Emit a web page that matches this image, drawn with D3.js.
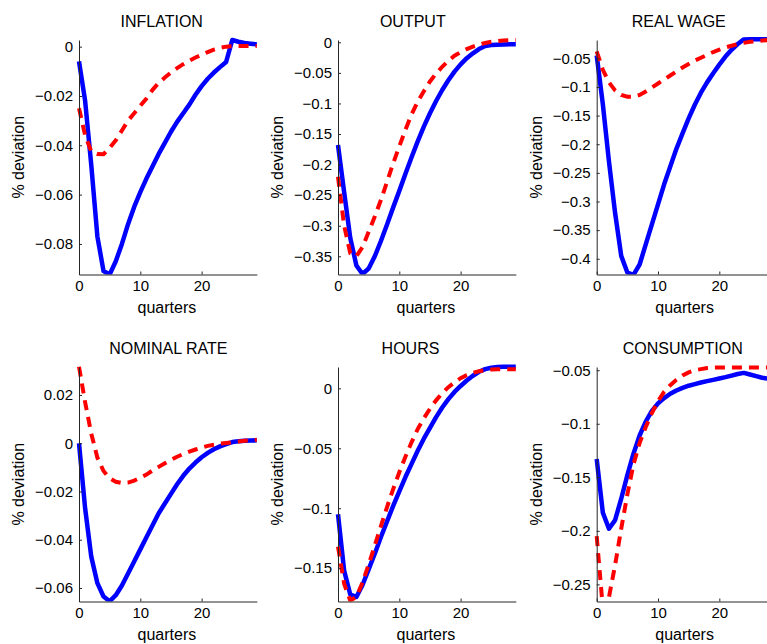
<!DOCTYPE html>
<meta charset="utf-8">
<style>

body {
  margin: 0;
}

svg {
  font-family: "Liberation Sans", Arial, sans-serif;
}

.solid {
  fill: none;
  stroke: #0000ff;
  stroke-width: 4.5;
  stroke-linejoin: round;
}

.dashed {
  fill: none;
  stroke: #ff0000;
  stroke-width: 4;
  stroke-dasharray: 10 7;
}

</style>

<svg width="767" height="644"></svg>

<script src="https://d3js.org/d3.v7.min.js"></script>
<script>

// horizonte em trimestres
var quarters = [0, 1, 2, 3, 4, 5, 6, 7, 8, 9, 10, 11, 12, 13, 14, 15, 16, 17, 18, 19, 20, 21, 22, 23, 24, 25, 26, 27, 28, 29];

var titles = ["INFLATION", "OUTPUT", "REAL WAGE", "NOMINAL RATE", "HOURS", "CONSUMPTION"];

var xTicks = [0, 10, 20];

// respostas (linha azul cheia)
var inflationSolid = [-0.006, -0.022, -0.048, -0.077, -0.091, -0.0924, -0.087, -0.080, -0.072, -0.065, -0.059, -0.0535, -0.0485, -0.0435, -0.039, -0.0345, -0.0305, -0.027, -0.0235, -0.0195, -0.016, -0.013, -0.0105, -0.0083, -0.0062, 0.0027, 0.002, 0.0015, 0.0012, 0.0009];
var outputSolid = [-0.168, -0.245, -0.32, -0.365, -0.379, -0.37, -0.35, -0.325, -0.298, -0.27, -0.243, -0.215, -0.188, -0.162, -0.138, -0.116, -0.096, -0.078, -0.062, -0.048, -0.036, -0.026, -0.018, -0.011, -0.006, -0.0045, -0.004, -0.0035, -0.003, -0.003];
var wageSolid = [-0.045, -0.13, -0.23, -0.32, -0.395, -0.424, -0.428, -0.41, -0.375, -0.34, -0.305, -0.27, -0.239, -0.208, -0.181, -0.155, -0.131, -0.110, -0.092, -0.076, -0.061, -0.047, -0.035, -0.025, -0.017, -0.0168, -0.0168, -0.0168, -0.0168, -0.0168];
var rateSolid = [0, -0.027, -0.047, -0.058, -0.0635, -0.0655, -0.063, -0.059, -0.054, -0.049, -0.044, -0.039, -0.034, -0.029, -0.025, -0.021, -0.017, -0.0135, -0.0105, -0.008, -0.0058, -0.004, -0.0025, -0.0013, -0.0004, 0.0005, 0.0008, 0.001, 0.0011, 0.0012];
var hoursSolid = [-0.105, -0.152, -0.172, -0.174, -0.164, -0.151, -0.138, -0.124, -0.111, -0.098, -0.086, -0.074, -0.063, -0.052, -0.042, -0.033, -0.024, -0.016, -0.009, -0.003, 0.002, 0.0065, 0.0105, 0.0138, 0.016, 0.0172, 0.0178, 0.018, 0.018, 0.018];
var consSolid = [-0.133, -0.183, -0.198, -0.190, -0.170, -0.148, -0.128, -0.111, -0.098, -0.088, -0.081, -0.076, -0.072, -0.069, -0.0665, -0.0645, -0.063, -0.0615, -0.0602, -0.059, -0.0578, -0.0565, -0.055, -0.0535, -0.0525, -0.054, -0.0555, -0.057, -0.058, -0.0585];

// respostas (linha vermelha tracejada)
var inflationDashed = [-0.025, -0.036, -0.0425, -0.0435, -0.0436, -0.041, -0.038, -0.034, -0.030, -0.027, -0.024, -0.021, -0.0175, -0.0147, -0.0125, -0.0105, -0.0087, -0.0071, -0.0057, -0.0044, -0.0033, -0.0022, -0.0012, -0.0005, 0, 0.0002, 0.0003, 0.0003, 0.0003, 0.0003];
var outputDashed = [-0.22, -0.30, -0.345, -0.35, -0.335, -0.31, -0.285, -0.258, -0.228, -0.198, -0.170, -0.143, -0.118, -0.097, -0.080, -0.064, -0.051, -0.040, -0.030, -0.022, -0.016, -0.011, -0.007, -0.004, -0.001, 0.001, 0.002, 0.003, 0.0035, 0.0038];
var wageDashed = [-0.038, -0.07, -0.092, -0.106, -0.114, -0.117, -0.117, -0.114, -0.108, -0.101, -0.094, -0.087, -0.080, -0.073, -0.066, -0.060, -0.054, -0.049, -0.044, -0.039, -0.035, -0.031, -0.028, -0.025, -0.023, -0.021, -0.020, -0.019, -0.018, -0.0175];
var rateDashed = [0.0317, 0.017, 0.004, -0.006, -0.0115, -0.0145, -0.016, -0.0165, -0.0163, -0.0155, -0.0143, -0.013, -0.0113, -0.0098, -0.0083, -0.0069, -0.0056, -0.0045, -0.0035, -0.0026, -0.0018, -0.0011, -0.0006, -0.0002, 0.0001, 0.0004, 0.0007, 0.001, 0.0012, 0.0014];
var hoursDashed = [-0.132, -0.163, -0.177, -0.174, -0.162, -0.147, -0.131, -0.115, -0.099, -0.084, -0.070, -0.057, -0.045, -0.034, -0.025, -0.017, -0.010, -0.004, 0.001, 0.005, 0.0085, 0.011, 0.013, 0.0143, 0.0152, 0.0157, 0.016, 0.016, 0.016, 0.016];
var consDashed = [-0.205, -0.272, -0.262, -0.232, -0.198, -0.166, -0.138, -0.118, -0.103, -0.090, -0.079, -0.070, -0.064, -0.059, -0.055, -0.052, -0.050, -0.049, -0.048, -0.0476, -0.0475, -0.0475, -0.0475, -0.0475, -0.0475, -0.0475, -0.0475, -0.0475, -0.0475, -0.0475];

// limites e ticks do eixo y
var yLimits = [[-0.0924, 0.0027], [-0.3798, 0.0038], [-0.4275, -0.018], [-0.0656, 0.0316], [-0.1778, 0.0178], [-0.266, -0.047]];
var yTicks = [
  [-0.08, -0.06, -0.04, -0.02, 0],
  [-0.35, -0.3, -0.25, -0.2, -0.15, -0.1, -0.05, 0],
  [-0.4, -0.35, -0.3, -0.25, -0.2, -0.15, -0.1, -0.05],
  [-0.06, -0.04, -0.02, 0, 0.02],
  [-0.15, -0.1, -0.05, 0],
  [-0.25, -0.2, -0.15, -0.1, -0.05]
];

var solids = [inflationSolid, outputSolid, wageSolid, rateSolid, hoursSolid, consSolid];
var dashes = [inflationDashed, outputDashed, wageDashed, rateDashed, hoursDashed, consDashed];

var svg = d3.select("svg");

var colLeft = [79, 338, 596.7],
    rowTop = [40, 367],
    panelW = 177.8,
    panelH = 234.5,
    titleOffset = [82.7, 74.8, 82.1, 89.3, 72.5, 86];

var fmt = d3.format("~g");

titles.forEach(function(title, i) {
  var left = colLeft[i % 3],
      top = rowTop[Math.floor(i / 3)];

  var x = d3.scaleLinear().domain([0, 29]).range([0, panelW]);
  var y = d3.scaleLinear().domain(yLimits[i]).range([panelH, 0]);

  var g = svg.append("g").attr("transform", "translate(" + left + "," + top + ")");

  g.append("clipPath")
      .attr("id", "clip" + i)
    .append("rect")
      .attr("x", -3)
      .attr("y", -3)
      .attr("width", panelW + 6)
      .attr("height", panelH + 3);

  var line = d3.line()
      .x((d, k) => x(quarters[k]))
      .y(d => y(d));

  var lines = g.append("g").attr("clip-path", "url(#clip" + i + ")");

  lines.append("path")
      .attr("class", "solid")
      .attr("d", line(solids[i]));

  lines.append("path")
      .attr("class", "dashed")
      .attr("d", line(dashes[i]));

  var yAxis = g.append("g")
      .call(d3.axisLeft(y).tickValues(yTicks[i]).tickFormat(fmt).tickSize(-3).tickSizeOuter(0).tickPadding(6));

  var xAxis = g.append("g")
      .attr("transform", "translate(0," + panelH + ")")
      .call(d3.axisBottom(x).tickValues(xTicks).tickSize(-3).tickSizeOuter(0).tickPadding(6));

  [yAxis, xAxis].forEach(function(a) {
    a.attr("font-family", null).attr("font-size", 15);
    a.selectAll("path, line").attr("stroke", "#262626");
    a.selectAll("text").attr("fill", "#000");
  });

  g.append("text")
      .attr("x", titleOffset[i])
      .attr("y", -13)
      .attr("text-anchor", "middle")
      .attr("font-size", 16)
      .text(title);

  g.append("text")
      .attr("x", panelW / 2 - 1)
      .attr("y", panelH + 38)
      .attr("text-anchor", "middle")
      .attr("font-size", 16)
      .text("quarters");

  g.append("text")
      .attr("transform", "translate(-60.5," + (panelH / 2) + ") rotate(-90)")
      .attr("dy", "0.35em")
      .attr("text-anchor", "middle")
      .attr("font-size", 16)
      .text("% deviation");
});

</script>
